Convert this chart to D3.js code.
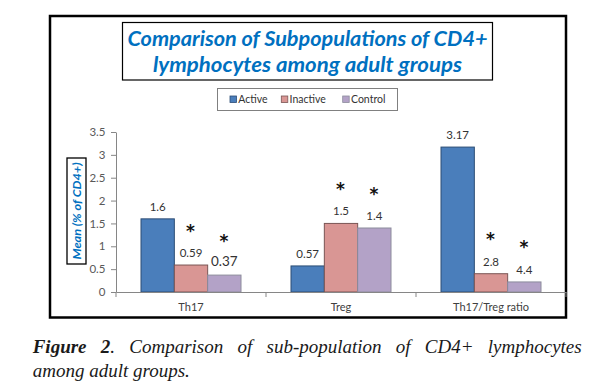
<!DOCTYPE html>
<html>
<head>
<meta charset="utf-8">
<script src="https://cdn.jsdelivr.net/npm/d3@7/dist/d3.min.js"></script>
<style>
  html, body { margin: 0; padding: 0; background: #fff; }
  svg { display: block; }
</style>
</head>
<body>
<svg id="chart" width="603" height="392"></svg>
<script>
// ---------- data ----------
const categories = ["Th17", "Treg", "Th17/Treg ratio"];
const seriesNames = ["Active", "Inactive", "Control"];
const activeValues = [1.6, 0.57, 3.17];
const inactiveValues = [0.59, 1.5, 0.4];
const controlValues = [0.37, 1.4, 0.22];
const activeLabels = ["1.6", "0.57", "3.17"];
const inactiveLabels = ["0.59", "1.5", "2.8"];
const controlLabels = ["0.37", "1.4", "4.4"];
const activeStars = [false, false, false];
const inactiveStars = [true, true, true];
const controlStars = [true, true, true];
const yTicks = [0, 0.5, 1, 1.5, 2, 2.5, 3, 3.5];
const titleLines = ["Comparison of Subpopulations of CD4+", "lymphocytes among adult groups"];
const yTitle = "Mean (% of CD4+)";

// ---------- styles ----------
const colors = { Active: "#4A7EBB", Inactive: "#D99694", Control: "#B3A2C7" };
const strokes = { Active: "#2C4D75", Inactive: "#7A5554", Control: "#8C8C9C" };
const chartFont = "Lato, 'Open Sans', sans-serif";

const seriesData = [
  { name: "Active", values: activeValues, labels: activeLabels, stars: activeStars },
  { name: "Inactive", values: inactiveValues, labels: inactiveLabels, stars: inactiveStars },
  { name: "Control", values: controlValues, labels: controlLabels, stars: controlStars }
];

const svg = d3.select("#chart");

// outer frame
svg.append("rect").attr("x", 50).attr("y", 16).attr("width", 516).attr("height", 301.5)
  .attr("fill", "#fff").attr("stroke", "#000").attr("stroke-width", 2.5);

// title box
svg.append("rect").attr("x", 122.5).attr("y", 22.5).attr("width", 370).attr("height", 57.5)
  .attr("fill", "#fff").attr("stroke", "#000").attr("stroke-width", 1.2);
const titleLens = [360, 309];
const titleBase = [45.7, 71.7];
titleLines.forEach((t, i) => {
  svg.append("text").attr("x", 307.5).attr("y", titleBase[i])
    .attr("text-anchor", "middle")
    .attr("font-family", chartFont).attr("font-weight", "bold").attr("font-style", "italic")
    .attr("font-size", 20).attr("fill", "#0070C0")
    .attr("textLength", titleLens[i]).attr("lengthAdjust", "spacingAndGlyphs")
    .text(t);
});

// legend
svg.append("rect").attr("x", 217.5).attr("y", 88.5).attr("width", 180).attr("height", 22)
  .attr("fill", "#fff").attr("stroke", "#808080").attr("stroke-width", 1);
const legendX = [230, 281.3, 342.7];
seriesNames.forEach((s, i) => {
  svg.append("rect").attr("x", legendX[i]).attr("y", 96).attr("width", 6.5).attr("height", 6.5)
    .attr("fill", colors[s]).attr("stroke", strokes[s]).attr("stroke-width", 0.8);
  svg.append("text").attr("x", legendX[i] + 8.3).attr("y", 103.3)
    .attr("font-family", chartFont).attr("font-size", 10.5).attr("fill", "#333")
    .text(s);
});

// scales
const x0 = d3.scaleBand().domain(categories).range([116, 566]).paddingInner(0).paddingOuter(0);
const x1 = d3.scaleBand().domain(seriesNames).range([0, x0.bandwidth()]).paddingInner(0).paddingOuter(0.75);
const y = d3.scaleLinear().domain([0, 3.5]).range([292, 132]);

// y axis
const yAxis = svg.append("g").attr("transform", "translate(116,0)")
  .call(d3.axisLeft(y).tickValues(yTicks).tickSize(5).tickSizeOuter(0).tickPadding(5.5)
    .tickFormat(d => String(d)));
yAxis.select(".domain").attr("stroke", "#868686");
yAxis.selectAll(".tick line").attr("stroke", "#868686");
yAxis.selectAll(".tick text").attr("font-family", chartFont).attr("font-size", 11.5).attr("fill", "#595959");

// y title with box
svg.append("rect").attr("x", 67).attr("y", 158).attr("width", 19).attr("height", 106)
  .attr("fill", "#fff").attr("stroke", "#000").attr("stroke-width", 1.3);
svg.append("text").attr("transform", "translate(80.8,211) rotate(-90)")
  .attr("text-anchor", "middle")
  .attr("font-family", chartFont).attr("font-weight", "bold").attr("font-style", "italic")
  .attr("font-size", 12).attr("fill", "#0070C0")
  .attr("textLength", 97).attr("lengthAdjust", "spacingAndGlyphs")
  .text(yTitle);

// bars
const groups = svg.append("g");
seriesData.forEach(s => {
  categories.forEach((c, i) => {
    const v = s.values[i];
    const bx = x0(c) + x1(s.name);
    groups.append("rect")
      .attr("x", bx).attr("y", y(v))
      .attr("width", x1.bandwidth()).attr("height", y(0) - y(v))
      .attr("fill", colors[s.name]).attr("stroke", strokes[s.name]).attr("stroke-width", 1);
  });
});

// x axis
const xAxis = svg.append("g").attr("transform", "translate(0,292)")
  .call(d3.axisBottom(x0).tickSize(0).tickSizeOuter(0).tickPadding(11));
xAxis.select(".domain").attr("stroke", "#868686");
xAxis.selectAll(".tick text").attr("font-family", chartFont).attr("font-size", 11).attr("fill", "#404040");
const boundaries = categories.map(c => x0(c)).concat([x0.range()[1]]);
boundaries.forEach(bx => {
  svg.append("line").attr("x1", bx).attr("x2", bx).attr("y1", 292).attr("y2", 297)
    .attr("stroke", "#868686").attr("stroke-width", 1);
});

// value labels and stars
seriesData.forEach(s => {
  categories.forEach((c, i) => {
    const v = s.values[i];
    const cx = x0(c) + x1(s.name) + x1.bandwidth() / 2;
    const big = (s.name === "Control" && i === 0);
    svg.append("text").attr("x", cx).attr("y", y(v) - (big ? 9.5 : 8))
      .attr("text-anchor", "middle")
      .attr("font-family", chartFont).attr("font-size", big ? 13.5 : 11.5).attr("fill", "#333")
      .text(s.labels[i]);
    if (s.stars[i]) {
      svg.append("text").attr("x", cx - 0.5).attr("y", y(v) - 38 + 9.5)
        .attr("text-anchor", "middle")
        .attr("font-family", "'DejaVu Sans', sans-serif").attr("font-weight", "bold")
        .attr("font-size", 17).attr("fill", "#111")
        .text("*");
    }
  });
});

// caption
const cap1 = svg.append("text").attr("x", 32.7).attr("y", 353)
  .attr("font-family", "'Liberation Serif', 'Times New Roman', serif")
  .attr("font-size", 19).attr("font-style", "italic").attr("fill", "#1a1a1a");
cap1.append("tspan").attr("font-weight", "bold").text("Figure 2");
cap1.append("tspan").text(". Comparison of sub-population of CD4+ lymphocytes");
const natural = cap1.node().getComputedTextLength();
const gaps = 7;
cap1.attr("word-spacing", (581.7 - 32.7 - natural) / gaps);

svg.append("text").attr("x", 32.7).attr("y", 376.7)
  .attr("font-family", "'Liberation Serif', 'Times New Roman', serif")
  .attr("font-size", 19).attr("font-style", "italic").attr("fill", "#1a1a1a")
  .text("among adult groups.");
</script>
</body>
</html>
